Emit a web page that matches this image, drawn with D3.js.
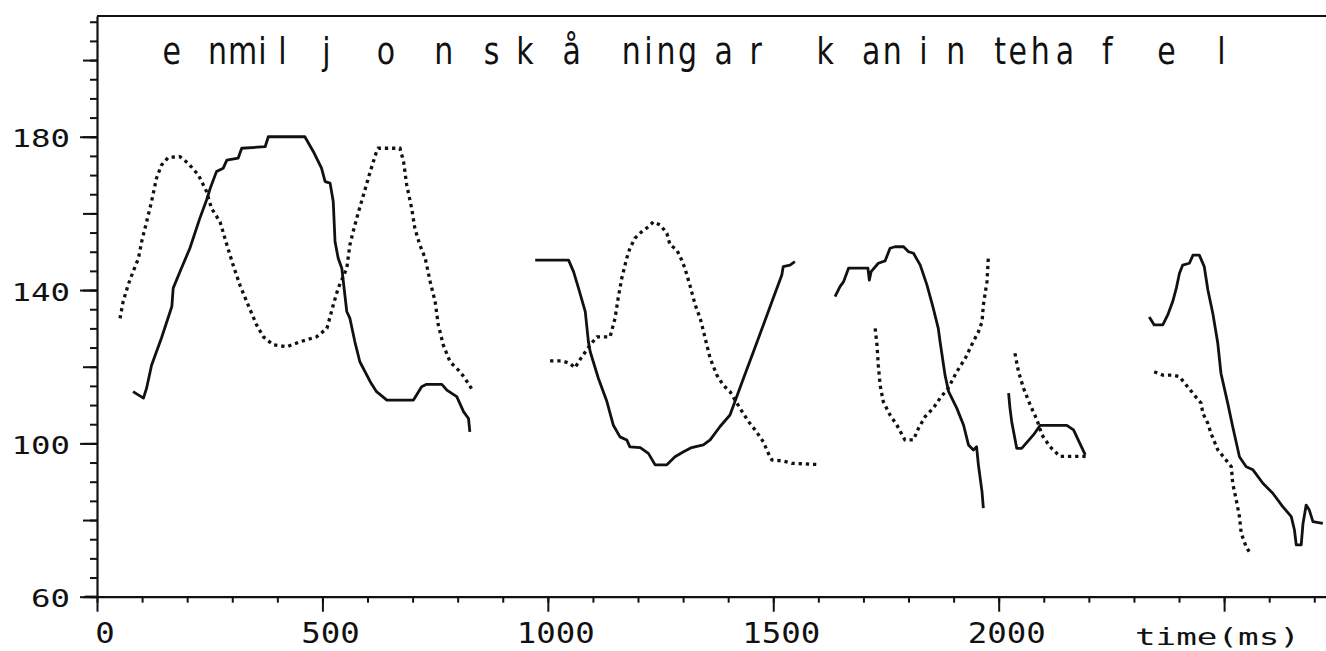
<!DOCTYPE html>
<html>
<head>
<meta charset="utf-8">
<script src="https://cdn.jsdelivr.net/npm/d3@7"></script>
<style>
  body { margin: 0; background: #fff; }
  svg { display: block; }
</style>
</head>
<body>
<svg id="chart" width="1326" height="651"></svg>
<script>
// ---------- data (time in ms, F0 in Hz) ----------
const solid1 = [[80,113.5],[103,111.8],[110,114.4],[121,120.4],[143,127.5],[166,135.7],[169,140.5],[184,144.8],[206,150.9],[228,158.7],[243,163.5],[251,166.5],[265,170.9],[280,171.8],[288,173.9],[313,174.4],[321,177],[373,177.4],[380,180],[461,180],[480,176.1],[498,171.8],[506,168.3],[517,167.9],[524,163.1],[528,152.6],[535,148.3],[543,145.7],[554,134.4],[561,132.6],[572,126.5],[583,121.3],[606,116.1],[620,113.5],[643,111.3],[702,111.3],[720,114.8],[731,115.4],[765,115.4],[776,113.9],[798,112.2],[813,108.3],[824,106.5],[827,103]];
const solid2 = [[972,147.8],[1046,147.8],[1057,144.8],[1068,140.5],[1083,134.4],[1090,126.5],[1094,123.9],[1112,117],[1131,110.9],[1145,104.8],[1160,101.7],[1175,100.9],[1182,99.1],[1205,98.9],[1223,97.4],[1238,94.4],[1264,94.4],[1282,96.5],[1301,97.8],[1319,98.9],[1345,99.6],[1360,100.9],[1382,104.4],[1404,107.4],[1415,110.9],[1434,117],[1456,123.9],[1478,130.9],[1500,137.9],[1519,143.9],[1522,146.1],[1537,146.5],[1548,147.4]];
const solid3 = [[1637,138.3],[1648,140.9],[1656,142.2],[1667,145.7],[1710,145.7],[1713,142.6],[1717,144.8],[1733,147],[1748,147.6],[1759,150.9],[1770,151.3],[1789,151.3],[1800,150],[1811,149.6],[1826,146.5],[1841,141.3],[1855,135.2],[1866,130],[1870,126.5],[1881,117.8],[1889,113.5],[1907,109.2],[1922,104.8],[1933,99.6],[1944,98.3],[1951,99.1],[1955,94.4],[1963,87.4],[1966,83.1]];
const solid4 = [[2022,113.1],[2025,109.2],[2029,105.6],[2040,98.7],[2051,98.7],[2077,102.2],[2092,104.7],[2151,104.7],[2166,103.5],[2192,97]];
const solid5 = [[2334,133],[2345,130.9],[2364,130.9],[2375,133.5],[2386,137],[2394,140.5],[2401,144.4],[2408,146.5],[2423,147],[2431,149.1],[2445,149.1],[2456,146.1],[2464,140],[2475,133.9],[2486,126.1],[2493,118.3],[2508,110.5],[2519,104.4],[2534,96.5],[2549,93.9],[2564,93.1],[2586,89.6],[2608,87],[2630,83.5],[2649,80.9],[2656,77.4],[2660,73.5],[2671,73.5],[2675,79.1],[2682,83.9],[2689,82.6],[2697,79.6],[2719,79.1]];

const dotted1 = [[51,132.6],[58,137],[69,141.3],[80,144.8],[92,148.3],[99,152.6],[110,157.8],[121,163.1],[132,169.2],[143,172.6],[158,174.6],[184,174.8],[202,173.1],[225,170],[243,165.7],[254,161.3],[273,157.8],[288,151.8],[302,146.5],[317,141.3],[332,137],[354,130.9],[369,127.8],[391,125.7],[421,125.2],[450,126.5],[487,127.8],[510,130],[524,136.1],[535,140.5],[554,145.7],[561,151.8],[568,155.2],[580,160.4],[591,164.8],[606,170.9],[620,176.1],[624,177],[672,177],[680,173.5],[687,167.4],[698,161.3],[705,156.1],[716,151.8],[728,148.3],[739,142.2],[750,137],[757,130.9],[768,125.7],[783,121.3],[805,118.7],[816,117],[835,113.5]];
const dotted2 = [[1005,121.5],[1031,121.5],[1049,120.9],[1060,119.7],[1071,121.8],[1094,125.7],[1109,127.8],[1138,127.8],[1149,132.6],[1156,137.9],[1164,143.1],[1175,148.3],[1182,150.9],[1193,153.5],[1208,155.2],[1223,156.5],[1234,157.8],[1249,157],[1264,154.8],[1271,151.8],[1286,150.5],[1297,147.8],[1304,145.7],[1315,141.3],[1327,136.1],[1338,132.6],[1349,127.4],[1360,122.2],[1375,117.8],[1389,115.2],[1404,113.5],[1426,109.2],[1445,105.7],[1463,103],[1478,100.4],[1489,97.4],[1497,95.7],[1522,95.4],[1541,94.8],[1597,94.5]];
const dotted3 = [[1726,130],[1730,125.7],[1733,120.4],[1737,115.2],[1744,110.9],[1759,107.4],[1774,104.8],[1792,100.9],[1811,100.9],[1822,103.9],[1837,107],[1855,109.2],[1870,111.8],[1888,114.4],[1907,118.7],[1926,122.2],[1940,125.7],[1955,129.1],[1963,131.7],[1966,136.1],[1974,142.2],[1977,148.3]];
const dotted4 = [[2036,123.5],[2044,118.7],[2055,114.4],[2070,110],[2085,106.1],[2096,102.2],[2114,99.1],[2136,96.6],[2188,96.6],[2199,96.5]];
const dotted5 = [[2345,118.7],[2364,117.8],[2386,117.8],[2401,117.4],[2416,115.2],[2434,112.6],[2449,110.5],[2453,107.8],[2464,105.2],[2471,102.6],[2486,98.3],[2504,95.7],[2516,93.9],[2519,89.6],[2527,85.2],[2534,80.9],[2538,76.5],[2549,73],[2560,70.9]];

const solidSegments = [solid1, solid2, solid3, solid4, solid5];
const dottedSegments = [dotted1, dotted2, dotted3, dotted4, dotted5];

// phonetic transcription letters aligned in time (ms)
const titleChars = ["e","n","m","i","l","j","o","n","s","k","å","n","i","n","g","a","r","k","a","n","i","n","t","e","h","a","f","e","l"];
const titleTimes = [166,267,323,367,411,509,641,769,875,949,1053,1185,1223,1262,1310,1390,1461,1615,1717,1764,1833,1905,2003,2042,2092,2147,2241,2372,2494];

const xTickLabels = [0, 500, 1000, 1500, 2000];
const yTickLabels = [60, 100, 140, 180];
const xAxisTitle = "time(ms)";

// ---------- layout ----------
const svg = d3.select("#chart");
const x = d3.scaleLinear().domain([0, 2726]).range([97, 1326]);
const y = d3.scaleLinear().domain([60, 211.5]).range([596.7, 16]);

const ink = "#111";

// y axis: small ticks every 5, medium every 20, major every 40
const yAll = d3.range(60, 211, 5);
const yMed = yAll.filter(v => v % 20 === 0);
function yAxisLayer(vals, size, withDomain) {
  const g = svg.append("g").attr("transform", `translate(${x(0)},0)`)
    .call(d3.axisLeft(y).tickValues(vals).tickSize(size).tickSizeOuter(0).tickFormat(""));
  g.selectAll(".tick line").attr("stroke", ink).attr("stroke-width", 2);
  g.select(".domain").attr("stroke", withDomain ? ink : "none").attr("stroke-width", 2.2);
  return g;
}
yAxisLayer(yAll, 7, true);
yAxisLayer(yMed, 14, false);
yAxisLayer(yTickLabels, 17, false);

// x axis: minor every 100, major every 500
const xAll = d3.range(0, 2701, 100);
function xAxisLayer(vals, size, withDomain) {
  const g = svg.append("g").attr("transform", `translate(0,${y(60)})`)
    .call(d3.axisBottom(x).tickValues(vals).tickSize(size).tickSizeOuter(0).tickFormat(""));
  g.selectAll(".tick line").attr("stroke", ink).attr("stroke-width", 2);
  g.select(".domain").attr("stroke", withDomain ? ink : "none").attr("stroke-width", 2.2);
  return g;
}
xAxisLayer(xAll, 6, true);
xAxisLayer([0, 500, 1000, 1500, 2000, 2500], 15, false);

// small extension of the x axis line to the left of the y axis
svg.append("line")
  .attr("x1", x(0) - 12).attr("x2", x(0))
  .attr("y1", y(60)).attr("y2", y(60))
  .attr("stroke", ink).attr("stroke-width", 2.2);

// top frame line
svg.append("line")
  .attr("x1", x(0)).attr("x2", x.range()[1])
  .attr("y1", y.range()[1]).attr("y2", y.range()[1])
  .attr("stroke", ink).attr("stroke-width", 2.2);

// y tick labels
svg.append("g").selectAll("text").data(yTickLabels).join("text")
  .attr("x", x(0) - 27)
  .attr("y", d => y(d) + 10.5)
  .attr("text-anchor", "end")
  .attr("font-family", "DejaVu Sans Mono, monospace")
  .attr("font-size", 25)
  .attr("textLength", d => String(d).length * 19.5)
  .attr("lengthAdjust", "spacingAndGlyphs")
  .attr("fill", ink)
  .text(d => d);

// x tick labels
svg.append("g").selectAll("text").data(xTickLabels).join("text")
  .attr("x", d => x(d) + 8)
  .attr("y", 643)
  .attr("text-anchor", "middle")
  .attr("font-family", "DejaVu Sans Mono, monospace")
  .attr("font-size", 29)
  .attr("textLength", d => String(d).length * 19.5)
  .attr("lengthAdjust", "spacingAndGlyphs")
  .attr("fill", ink)
  .text(d => d);

// axis title
svg.append("text")
  .attr("x", 1135).attr("y", 645)
  .attr("font-family", "DejaVu Sans Mono, monospace")
  .attr("font-size", 23)
  .attr("textLength", 165)
  .attr("lengthAdjust", "spacingAndGlyphs")
  .attr("fill", ink)
  .text(xAxisTitle);

// phonetic letters (tall, narrow plotter-like lettering)
svg.append("g").selectAll("text").data(titleChars).join("text")
  .attr("transform", (d, i) => `translate(${x(titleTimes[i])},64) scale(1,1.22)`)
  .attr("text-anchor", "middle")
  .attr("font-family", "DejaVu Sans, sans-serif")
  .attr("font-size", 30)
  .attr("fill", ink)
  .text(d => d);

// lines
const line = d3.line().x(d => x(d[0])).y(d => y(d[1]));
svg.append("g").selectAll("path").data(solidSegments).join("path")
  .attr("d", line)
  .attr("fill", "none")
  .attr("stroke", ink)
  .attr("stroke-width", 2.8)
  .attr("stroke-linejoin", "round");
svg.append("g").selectAll("path").data(dottedSegments).join("path")
  .attr("d", line)
  .attr("fill", "none")
  .attr("stroke", ink)
  .attr("stroke-width", 3.3)
  .attr("stroke-dasharray", "3.3 3.9");
</script>
</body>
</html>
